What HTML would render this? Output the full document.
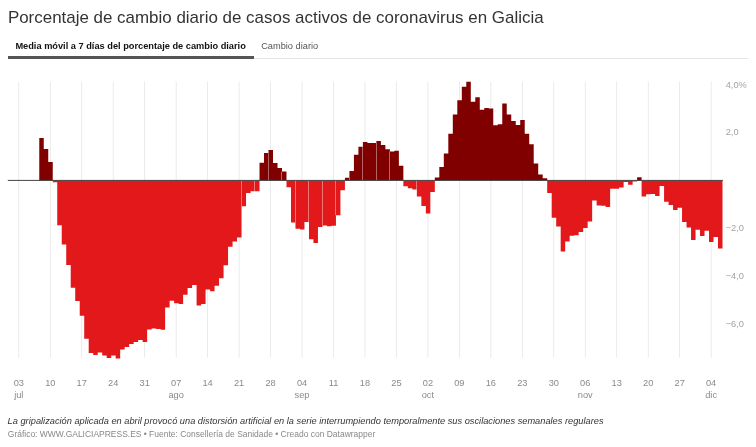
<!DOCTYPE html>
<html lang="es"><head><meta charset="utf-8"><title>Porcentaje de cambio diario de casos activos de coronavirus en Galicia</title>
<style>
html,body{margin:0;padding:0;background:#fff;}
body{width:756px;height:447px;position:relative;overflow:hidden;font-family:"Liberation Sans",Arial,sans-serif;}
.t{position:absolute;white-space:nowrap;}
#title{left:7.9px;top:7.3px;font-size:16.95px;line-height:22px;color:#333;transform:scaleY(.95);transform-origin:0 16.9px;}
#tab1{left:15.4px;top:41.2px;font-size:9.24px;line-height:11px;font-weight:bold;color:#111;}
#tab2{left:261.2px;top:41.2px;font-size:9.24px;line-height:11px;color:#555;}
#ul1{position:absolute;left:8px;top:56.0px;width:245.6px;height:2.5px;background:#555;}
#ul2{position:absolute;left:8px;top:58.0px;width:740px;height:1.1px;background:#e6e6e6;}
svg{position:absolute;left:0;top:0;}
.xl{position:absolute;top:378.2px;width:40px;text-align:center;font-size:9.24px;line-height:11.4px;color:#8a8a8a;}
.yl{position:absolute;left:725.7px;font-size:9.24px;line-height:11px;color:#a3a3a3;white-space:nowrap;}
#notes{left:7.6px;top:416.4px;font-size:9.26px;line-height:11px;font-style:italic;color:#333;}
#foot{left:7.8px;top:429.2px;font-size:8.47px;line-height:10px;color:#888;}
</style></head><body>
<div id="title" class="t">Porcentaje de cambio diario de casos activos de coronavirus en Galicia</div>
<div id="ul2"></div><div id="ul1"></div>
<div id="tab1" class="t">Media móvil a 7 días del porcentaje de cambio diario</div>
<div id="tab2" class="t">Cambio diario</div>
<svg width="756" height="447" viewBox="0 0 756 447">
<rect x="18.45" y="81.5" width="0.7" height="276.2" fill="#e2e2e2"/>
<rect x="49.92" y="81.5" width="0.7" height="276.2" fill="#e2e2e2"/>
<rect x="81.39" y="81.5" width="0.7" height="276.2" fill="#e2e2e2"/>
<rect x="112.86" y="81.5" width="0.7" height="276.2" fill="#e2e2e2"/>
<rect x="144.33" y="81.5" width="0.7" height="276.2" fill="#e2e2e2"/>
<rect x="175.80" y="81.5" width="0.7" height="276.2" fill="#e2e2e2"/>
<rect x="207.27" y="81.5" width="0.7" height="276.2" fill="#e2e2e2"/>
<rect x="238.74" y="81.5" width="0.7" height="276.2" fill="#e2e2e2"/>
<rect x="270.21" y="81.5" width="0.7" height="276.2" fill="#e2e2e2"/>
<rect x="301.68" y="81.5" width="0.7" height="276.2" fill="#e2e2e2"/>
<rect x="333.15" y="81.5" width="0.7" height="276.2" fill="#e2e2e2"/>
<rect x="364.62" y="81.5" width="0.7" height="276.2" fill="#e2e2e2"/>
<rect x="396.09" y="81.5" width="0.7" height="276.2" fill="#e2e2e2"/>
<rect x="427.56" y="81.5" width="0.7" height="276.2" fill="#e2e2e2"/>
<rect x="459.03" y="81.5" width="0.7" height="276.2" fill="#e2e2e2"/>
<rect x="490.50" y="81.5" width="0.7" height="276.2" fill="#e2e2e2"/>
<rect x="521.97" y="81.5" width="0.7" height="276.2" fill="#e2e2e2"/>
<rect x="553.44" y="81.5" width="0.7" height="276.2" fill="#e2e2e2"/>
<rect x="584.91" y="81.5" width="0.7" height="276.2" fill="#e2e2e2"/>
<rect x="616.38" y="81.5" width="0.7" height="276.2" fill="#e2e2e2"/>
<rect x="647.85" y="81.5" width="0.7" height="276.2" fill="#e2e2e2"/>
<rect x="679.32" y="81.5" width="0.7" height="276.2" fill="#e2e2e2"/>
<rect x="710.79" y="81.5" width="0.7" height="276.2" fill="#e2e2e2"/>
<path d="M39.27 180.4V138.1H43.76V148.9H48.25V162.0H52.75V180.4ZM259.52 180.4V162.7H264.02V153.1H268.51V150.1H273.00V163.0H277.50V168.1H282.00V171.6H286.49V180.4ZM344.93 180.4V177.8H349.42V171.1H353.92V154.7H358.41V146.8H362.91V142.1H367.40V143.0H371.90V143.0H376.39V140.9H380.89V145.1H385.38V149.3H389.88V151.5H394.37V150.7H398.87V165.8H403.36V180.4ZM434.83 180.4V177.4H439.32V166.9H443.81V153.5H448.31V133.7H452.81V114.4H457.30V100.2H461.80V86.7H466.29V81.7H470.79V101.8H475.28V97.3H479.78V109.7H484.27V108.1H488.77V108.6H493.26V125.3H497.75V124.2H502.25V103.5H506.75V114.4H511.24V121.1H515.74V125.0H520.23V120.0H524.73V133.7H529.22V144.3H533.71V163.5H538.21V174.4H542.70V178.3H547.20V180.4ZM637.10 180.4V177.2H641.59V180.4Z" fill="#800000"/>
<path d="M52.75 180.4V182.2H57.24V225.3H61.74V244.6H66.23V265.1H70.73V287.8H75.22V300.9H79.72V315.8H84.22V338.7H88.71V352.9H93.20V355.1H97.70V352.4H102.19V355.4H106.69V358.0H111.19V355.4H115.68V358.5H120.17V349.6H124.67V347.0H129.17V344.0H133.66V342.0H138.16V340.0H142.65V342.0H147.15V329.4H151.64V328.6H156.14V328.9H160.63V329.8H165.13V307.6H169.62V300.7H174.12V303.3H178.61V304.0H183.11V294.8H187.60V287.9H192.10V285.0H196.59V305.5H201.09V304.1H205.58V289.5H210.08V291.2H214.57V285.8H219.07V278.3H223.56V265.2H228.06V246.7H232.55V241.4H237.05V237.5H241.54V206.3H246.04V192.9H250.53V191.2H255.03V191.2H259.52V180.4ZM286.49 180.4V187.2H290.99V222.5H295.48V228.8H299.98V229.5H304.47V222.0H308.97V239.2H313.46V243.1H317.96V227.0H322.45V225.5H326.94V226.3H331.44V225.8H335.94V215.2H340.43V190.3H344.93V180.4ZM403.36 180.4V186.3H407.86V188.2H412.35V189.6H416.85V196.6H421.34V206.1H425.84V213.6H430.33V192.1H434.83V180.4ZM547.20 180.4V193.0H551.69V217.7H556.19V226.6H560.68V251.6H565.18V241.5H569.67V235.8H574.17V235.3H578.66V232.0H583.16V228.1H587.65V221.6H592.15V200.6H596.64V205.6H601.14V205.7H605.63V207.0H610.13V188.7H614.62V188.7H619.12V187.5H623.62V181.9H628.11V184.7H632.61V181.6H637.10V180.4ZM641.59 180.4V196.6H646.09V194.2H650.58V194.0H655.08V195.9H659.57V186.1H664.07V201.8H668.56V205.0H673.06V210.1H677.55V207.7H682.05V222.1H686.54V227.4H691.04V240.0H695.53V229.7H700.03V236.1H704.52V230.7H709.02V242.0H713.51V236.9H718.01V248.4H722.50V180.4Z" fill="#e2181b"/>
<rect x="241" y="180.4" width="1" height="25.9" fill="#fff" fill-opacity="0.4"/>
<rect x="254" y="180.4" width="1" height="10.8" fill="#fff" fill-opacity="0.4"/>
<rect x="268" y="153.1" width="1" height="27.3" fill="#fff" fill-opacity="0.4"/>
<rect x="281" y="171.6" width="1" height="8.8" fill="#fff" fill-opacity="0.4"/>
<rect x="295" y="180.4" width="1" height="42.1" fill="#fff" fill-opacity="0.4"/>
<rect x="308" y="180.4" width="1" height="41.6" fill="#fff" fill-opacity="0.4"/>
<rect x="322" y="180.4" width="1" height="45.1" fill="#fff" fill-opacity="0.4"/>
<rect x="335" y="180.4" width="1" height="34.8" fill="#fff" fill-opacity="0.4"/>
<rect x="349" y="177.8" width="1" height="2.6" fill="#fff" fill-opacity="0.4"/>
<rect x="362" y="146.8" width="1" height="33.6" fill="#fff" fill-opacity="0.4"/>
<rect x="376" y="143.0" width="1" height="37.4" fill="#fff" fill-opacity="0.4"/>
<rect x="389" y="151.5" width="1" height="28.9" fill="#fff" fill-opacity="0.4"/>
<rect x="416" y="180.4" width="1" height="9.2" fill="#fff" fill-opacity="0.4"/>
<rect x="7.8" y="179.9" width="715.1" height="1" fill="#444"/>
</svg>
<div class="xl" style="left:-1.20px">03<br>jul</div>
<div class="xl" style="left:30.27px">10<br></div>
<div class="xl" style="left:61.74px">17<br></div>
<div class="xl" style="left:93.21px">24<br></div>
<div class="xl" style="left:124.68px">31<br></div>
<div class="xl" style="left:156.15px">07<br>ago</div>
<div class="xl" style="left:187.62px">14<br></div>
<div class="xl" style="left:219.09px">21<br></div>
<div class="xl" style="left:250.56px">28<br></div>
<div class="xl" style="left:282.03px">04<br>sep</div>
<div class="xl" style="left:313.50px">11<br></div>
<div class="xl" style="left:344.97px">18<br></div>
<div class="xl" style="left:376.44px">25<br></div>
<div class="xl" style="left:407.91px">02<br>oct</div>
<div class="xl" style="left:439.38px">09<br></div>
<div class="xl" style="left:470.85px">16<br></div>
<div class="xl" style="left:502.32px">23<br></div>
<div class="xl" style="left:533.79px">30<br></div>
<div class="xl" style="left:565.26px">06<br>nov</div>
<div class="xl" style="left:596.73px">13<br></div>
<div class="xl" style="left:628.20px">20<br></div>
<div class="xl" style="left:659.67px">27<br></div>
<div class="xl" style="left:691.14px">04<br>dic</div>
<div class="yl" style="top:79.6px">4,0%</div>
<div class="yl" style="top:127.4px">2,0</div>
<div class="yl" style="top:223.0px">−2,0</div>
<div class="yl" style="top:270.8px">−4,0</div>
<div class="yl" style="top:318.6px">−6,0</div>
<div id="notes" class="t">La gripalización aplicada en abril provocó una distorsión artificial en la serie interrumpiendo temporalmente sus oscilaciones semanales regulares</div>
<div id="foot" class="t">Gráfico: WWW.GALICIAPRESS.ES • Fuente: Consellería de Sanidade • Creado con Datawrapper</div>
</body></html>
